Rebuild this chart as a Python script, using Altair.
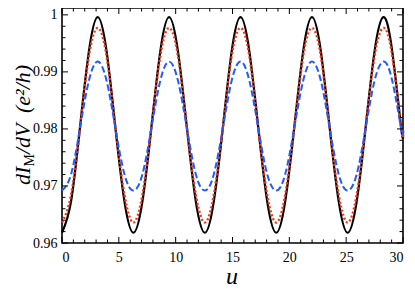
import altair as alt
import pandas as pd

# ---- data ----
u = [0.00, 0.79, 1.57, 2.36, 3.14, 3.93, 4.71, 5.50,
     6.28, 7.07, 7.85, 8.64, 9.42, 10.21, 11.00, 11.78,
     12.57, 13.35, 14.14, 14.92, 15.71, 16.49, 17.28, 18.06,
     18.85, 19.63, 20.42, 21.21, 21.99, 22.78, 23.56, 24.35,
     25.13, 25.92, 26.70, 27.49, 28.27, 29.06, 29.85,
     30.00]

black = [0.9618, 0.9672, 0.9800, 0.9935, 0.9996, 0.9935, 0.9800, 0.9672,
         0.9618, 0.9672, 0.9800, 0.9935, 0.9996, 0.9935, 0.9800, 0.9672,
         0.9618, 0.9672, 0.9800, 0.9935, 0.9996, 0.9935, 0.9800, 0.9672,
         0.9618, 0.9672, 0.9800, 0.9935, 0.9996, 0.9935, 0.9800, 0.9672,
         0.9618, 0.9672, 0.9800, 0.9935, 0.9996, 0.9935, 0.9800,
         0.9798]

red = [0.9636, 0.9684, 0.9800, 0.9927, 0.9977, 0.9927, 0.9800, 0.9684,
       0.9636, 0.9684, 0.9800, 0.9927, 0.9977, 0.9927, 0.9800, 0.9684,
       0.9636, 0.9684, 0.9800, 0.9927, 0.9977, 0.9927, 0.9800, 0.9684,
       0.9636, 0.9684, 0.9800, 0.9927, 0.9977, 0.9927, 0.9800, 0.9684,
       0.9636, 0.9684, 0.9800, 0.9927, 0.9977, 0.9927, 0.9800,
       0.9798]

blue = [0.9692, 0.9720, 0.9800, 0.9884, 0.9918, 0.9884, 0.9800, 0.9720,
        0.9692, 0.9720, 0.9800, 0.9884, 0.9918, 0.9884, 0.9800, 0.9720,
        0.9692, 0.9720, 0.9800, 0.9884, 0.9918, 0.9884, 0.9800, 0.9720,
        0.9692, 0.9720, 0.9800, 0.9884, 0.9918, 0.9884, 0.9800, 0.9720,
        0.9692, 0.9720, 0.9800, 0.9884, 0.9918, 0.9884, 0.9800,
        0.9799]

x_major = [0, 5, 10, 15, 20, 25, 30]
x_minor = [1, 2, 3, 4, 6, 7, 8, 9, 11, 12, 13, 14, 16, 17, 18, 19,
           21, 22, 23, 24, 26, 27, 28, 29]
y_major = [0.96, 0.97, 0.98, 0.99, 1.0]
y_minor = [0.962, 0.964, 0.966, 0.968, 0.972, 0.974, 0.976, 0.978,
           0.982, 0.984, 0.986, 0.988, 0.992, 0.994, 0.996, 0.998]

W, H = 341, 235
FONT = "'Liberation Serif', 'Times New Roman', Times, serif"
MAJ, MIN = 6, 3.5

xs = alt.Scale(domain=[0, 30], nice=False, zero=False)
ys = alt.Scale(domain=[0.96, 1.0012], nice=False, zero=False)

xaxis = alt.Axis(values=x_major, format="d", ticks=False, tickSize=0, domain=False,
                 grid=False, labelFont=FONT, labelFontSize=14, labelColor="black",
                 labelPadding=7, title=None)
yaxis = alt.Axis(values=y_major, format="~g", ticks=False, tickSize=0, domain=False,
                 grid=False, labelFont=FONT, labelFontSize=14, labelColor="black",
                 labelPadding=5, title=None)

df = pd.DataFrame({"u": u, "black": black, "red": red, "blue": blue})
base = alt.Chart(df)

l_black = base.mark_line(interpolate="natural", color="black", strokeWidth=2.2).encode(
    x=alt.X("u:Q", scale=xs, axis=xaxis),
    y=alt.Y("black:Q", scale=ys, axis=yaxis))
l_red = base.mark_line(interpolate="natural", color="#ff3010", strokeWidth=2.4,
                       strokeDash=[2, 2.2]).encode(
    x=alt.X("u:Q", scale=xs), y=alt.Y("red:Q", scale=ys))
l_blue = base.mark_line(interpolate="natural", color="#1f5cff", strokeWidth=2.0,
                        strokeDash=[6.5, 3]).encode(
    x=alt.X("u:Q", scale=xs), y=alt.Y("blue:Q", scale=ys))

def xticks(vals, length):
    d = alt.Chart(pd.DataFrame({"t": vals}))
    bot = d.mark_rule(color="black", strokeWidth=1).encode(
        x=alt.X("t:Q", scale=xs), y=alt.value(H), y2=alt.value(H - length))
    top = d.mark_rule(color="black", strokeWidth=1).encode(
        x=alt.X("t:Q", scale=xs), y=alt.value(0), y2=alt.value(length))
    return [bot, top]

def yticks(vals, length):
    d = alt.Chart(pd.DataFrame({"t": vals}))
    left = d.mark_rule(color="black", strokeWidth=1).encode(
        y=alt.Y("t:Q", scale=ys), x=alt.value(0), x2=alt.value(length))
    right = d.mark_rule(color="black", strokeWidth=1).encode(
        y=alt.Y("t:Q", scale=ys), x=alt.value(W - length), x2=alt.value(W))
    return [left, right]

ticks = xticks(x_major, MAJ) + xticks(x_minor, MIN) + yticks(y_major, MAJ) + yticks(y_minor, MIN)

def label(text, x, y, size, style="italic", angle=0, align="left"):
    return alt.Chart(pd.DataFrame({"t": [text]})).mark_text(
        font=FONT, fontSize=size, fontStyle=style, angle=angle, align=align,
        baseline="alphabetic", color="black").encode(
        text="t:N", x=alt.value(x), y=alt.value(y))

t_u = label("u", 170, 276, 24, align="center")
t_dI = label("dI", -32, 177, 22, angle=270)
t_M = label("M", -28, 158.5, 14, style="normal", angle=270)
t_dV = label("/dV", -32, 146, 22, angle=270)
t_unit = label("(e²/h)", -32, 105, 22, angle=270)

chart = alt.layer(l_black, l_red, l_blue, *ticks, t_u, t_dI, t_M, t_dV, t_unit).properties(
    width=W, height=H,
    autosize=alt.AutoSizeParams(type="none"),
    padding={"left": 54, "top": 0, "right": 4, "bottom": 50},
).configure_view(stroke="black", strokeWidth=1.6)

chart.save("out.html", embed_options={"renderer": "svg", "actions": False})
